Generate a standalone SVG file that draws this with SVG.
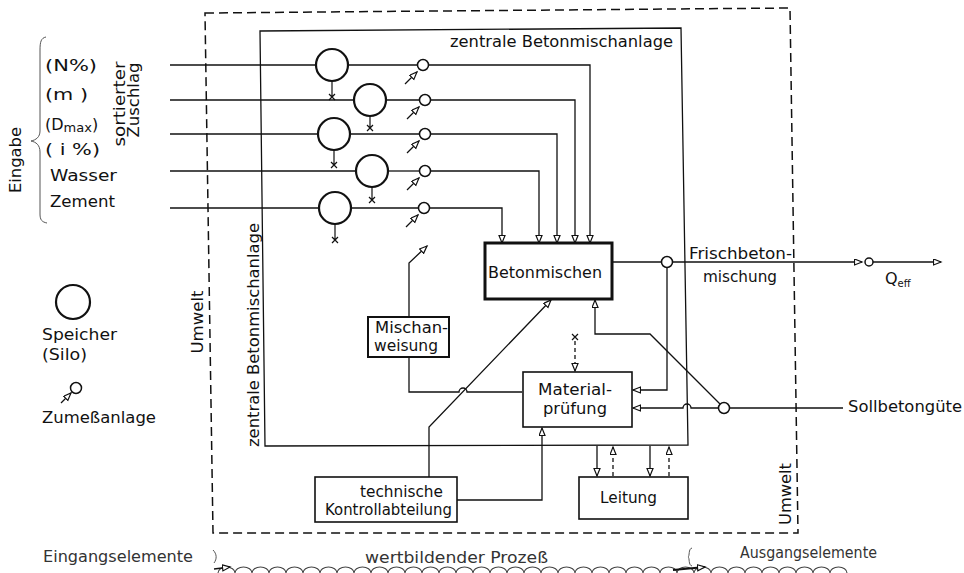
<svg xmlns="http://www.w3.org/2000/svg" width="964" height="573" viewBox="0 0 964 573">
<style>
text{font-family:"DejaVu Sans","Liberation Sans",sans-serif;font-size:16px;fill:#111}
.g{fill:#333}
.k{font-size:15px}
.l{fill:none;stroke:#111;stroke-width:1.3}
.d{fill:none;stroke:#111;stroke-width:1.3;stroke-dasharray:4 3}
.od{fill:none;stroke:#111;stroke-width:1.5;stroke-dasharray:9 5}
.b{fill:#fff;stroke:#111;stroke-width:1.6}
.s{fill:#fff;stroke:#111;stroke-width:2.2}
.z{fill:#fff;stroke:#111;stroke-width:1.5}
.x{fill:none;stroke:#111;stroke-width:1.2}
</style>
<defs>
<marker id="a" markerWidth="10" markerHeight="8" refX="8" refY="3.5" orient="auto" markerUnits="userSpaceOnUse"><path d="M0.5,0.5 L8,3.5 L0.5,6.5 Z" fill="#fff" stroke="#111" stroke-width="1.2"/></marker>
</defs>

<g id="umwelt">
<path class="od" d="M205,13 L790,8 L798,533 L213,533 Z"/>
<text transform="translate(203,322) rotate(-90)" text-anchor="middle" textLength="63" lengthAdjust="spacingAndGlyphs">Umwelt</text>
<text transform="translate(791,494) rotate(-90)" text-anchor="middle" textLength="62" lengthAdjust="spacingAndGlyphs">Umwelt</text>
</g>

<g id="anlage">
<path class="l" d="M260,31 L681,28 L688,445 L265,446 Z"/>
<text x="450" y="47" textLength="223" lengthAdjust="spacingAndGlyphs">zentrale Betonmischanlage</text>
<text transform="translate(259,335) rotate(-90)" text-anchor="middle" textLength="224" lengthAdjust="spacingAndGlyphs">zentrale Betonmischanlage</text>
</g>

<g id="eingabe">
<path fill="none" stroke="#555" stroke-width="1" d="M46,37 C41,38 40,42 40,50 L40,131 C40,137 36,140 31,141 C36,142 40,145 40,152 L40,214 C40,220 42,222 47,223"/>
<text transform="translate(21,160) rotate(-90)" text-anchor="middle" textLength="66" lengthAdjust="spacingAndGlyphs">Eingabe</text>
<text x="45" y="71" textLength="52" lengthAdjust="spacingAndGlyphs">(N%)</text>
<text x="45" y="100" textLength="43" lengthAdjust="spacingAndGlyphs">(m )</text>
<text x="45" y="130">(D<tspan font-size="13" dy="2">max</tspan><tspan dy="-2">)</tspan></text>
<text x="45" y="155" textLength="55" lengthAdjust="spacingAndGlyphs">( i %)</text>
<text x="50" y="181" textLength="67" lengthAdjust="spacingAndGlyphs">Wasser</text>
<text x="50" y="207" textLength="65" lengthAdjust="spacingAndGlyphs">Zement</text>
<text transform="translate(125,104) rotate(-90)" text-anchor="middle" textLength="85" lengthAdjust="spacingAndGlyphs">sortierter</text>
<text transform="translate(138.5,100) rotate(-90)" text-anchor="middle" textLength="75" lengthAdjust="spacingAndGlyphs">Zuschlag</text>
</g>

<g id="legende">
<circle class="s" cx="73" cy="302" r="17"/>
<text x="42" y="340" textLength="75" lengthAdjust="spacingAndGlyphs">Speicher</text>
<text x="42" y="360" textLength="45" lengthAdjust="spacingAndGlyphs">(Silo)</text>
<circle class="z" cx="76" cy="388" r="5.5"/>
<path class="l" d="M61,403 L71,393" marker-end="url(#a)"/>
<text x="42" y="423" textLength="114" lengthAdjust="spacingAndGlyphs">Zumeßanlage</text>
</g>

<g id="connectors">
<path class="l" d="M170,65 H316"/>
<path class="l" d="M170,100 H354"/>
<path class="l" d="M170,134 H318"/>
<path class="l" d="M170,171 H356"/>
<path class="l" d="M170,208 H319"/>
<path class="l" d="M348,65 H417.5"/>
<path class="l" d="M386,100 H419.5"/>
<path class="l" d="M350,134 H419.5"/>
<path class="l" d="M388,171 H419.5"/>
<path class="l" d="M351,208 H418.5"/>
<path class="l" d="M428.5,65 H590 V243" marker-end="url(#a)"/>
<path class="l" d="M430.5,100 H575 V243" marker-end="url(#a)"/>
<path class="l" d="M430.5,134 H557 V243" marker-end="url(#a)"/>
<path class="l" d="M430.5,171 H539 V243" marker-end="url(#a)"/>
<path class="l" d="M429.5,208 H502 V243" marker-end="url(#a)"/>
<path class="l" d="M612,262 H661.5"/>
<path class="l" d="M672.5,262 H862" marker-end="url(#a)"/>
<circle class="z" cx="869" cy="262" r="4"/>
<path class="l" d="M873,262 H941" marker-end="url(#a)"/>
<path class="l" d="M667,267.5 V390 H633" marker-end="url(#a)"/>
<path class="l" d="M843,408 H729.5"/>
<path class="l" d="M718.5,408 H691 a4,4 0 0 0 -8,0 H633" marker-end="url(#a)"/>
<path class="l" d="M720,404 L650,334 H595 V300" marker-end="url(#a)"/>
<path class="l" d="M409,317 V263 L427,246" marker-end="url(#a)"/>
<path class="l" d="M409,357 V392 H459 a4,4 0 0 1 8,0 H522"/>
<path class="l" d="M429,477 V427 L551,300" marker-end="url(#a)"/>
<path class="l" d="M457,500 H542 V428" marker-end="url(#a)"/>
<path class="x" d="M572,334 L578,340 M572,340 L578,334"/>
<path class="d" d="M575,341 V371" marker-end="url(#a)"/>
<path class="l" d="M597,446 V476" marker-end="url(#a)"/>
<path class="d" d="M613,476 V447" marker-end="url(#a)"/>
<path class="l" d="M650,446 V476" marker-end="url(#a)"/>
<path class="d" d="M669,476 V447" marker-end="url(#a)"/>
</g>

<g id="silo1"><circle class="s" cx="332" cy="65" r="16"/><path class="x" d="M332,81 V97 M329,94 L335,100 M329,100 L335,94"/></g>
<g id="silo2"><circle class="s" cx="370" cy="100" r="16"/><path class="x" d="M370,116 V128 M367,125 L373,131 M367,131 L373,125"/></g>
<g id="silo3"><circle class="s" cx="334" cy="134" r="16"/><path class="x" d="M334,150 V165 M331,162 L337,168 M331,168 L337,162"/></g>
<g id="silo4"><circle class="s" cx="372" cy="171" r="16"/><path class="x" d="M372,187 V200 M369,197 L375,203 M369,203 L375,197"/></g>
<g id="silo5"><circle class="s" cx="335" cy="208" r="16"/><path class="x" d="M335,224 V240 M332,237 L338,243 M332,243 L338,237"/></g>

<g id="zumess1"><circle class="z" cx="423" cy="65" r="5.5"/><path class="l" d="M405,84 L417,72" marker-end="url(#a)"/></g>
<g id="zumess2"><circle class="z" cx="425" cy="100" r="5.5"/><path class="l" d="M407,119 L419,107" marker-end="url(#a)"/></g>
<g id="zumess3"><circle class="z" cx="425" cy="134" r="5.5"/><path class="l" d="M407,153 L419,141" marker-end="url(#a)"/></g>
<g id="zumess4"><circle class="z" cx="425" cy="171" r="5.5"/><path class="l" d="M407,190 L419,178" marker-end="url(#a)"/></g>
<g id="zumess5"><circle class="z" cx="424" cy="208" r="5.5"/><path class="l" d="M406,227 L418,215" marker-end="url(#a)"/></g>

<g id="knoten">
<circle class="z" cx="667" cy="262" r="5.5"/>
<circle class="z" cx="724" cy="408" r="5.5"/>
</g>

<g id="betonmischen">
<rect x="485" y="243" width="127" height="56" fill="#fff" stroke="#111" stroke-width="3"/>
<text x="488" y="278" textLength="114" lengthAdjust="spacingAndGlyphs">Betonmischen</text>
</g>

<g id="materialpruefung">
<rect class="b" x="523" y="372" width="109" height="55"/>
<text x="538" y="395" textLength="74" lengthAdjust="spacingAndGlyphs">Material-</text>
<text x="543" y="414" textLength="64" lengthAdjust="spacingAndGlyphs">prüfung</text>
</g>

<g id="mischanweisung">
<rect x="368" y="317" width="81" height="40" fill="#fff" stroke="#111" stroke-width="2"/>
<text x="375" y="333" textLength="73" lengthAdjust="spacingAndGlyphs">Mischan-</text>
<text x="374" y="351" textLength="64" lengthAdjust="spacingAndGlyphs">weisung</text>
</g>

<g id="kontrollabteilung">
<rect class="b" x="315" y="477" width="142" height="45"/>
<text class="k" x="360" y="497" textLength="83" lengthAdjust="spacingAndGlyphs">technische</text>
<text class="k" x="325" y="515" textLength="127" lengthAdjust="spacingAndGlyphs">Kontrollabteilung</text>
</g>

<g id="leitung">
<rect class="b" x="579" y="477" width="109" height="42"/>
<text x="600" y="503" textLength="57" lengthAdjust="spacingAndGlyphs">Leitung</text>
</g>

<g id="ausgang">
<text x="689" y="259" textLength="103" lengthAdjust="spacingAndGlyphs">Frischbeton-</text>
<text x="703" y="282" textLength="74" lengthAdjust="spacingAndGlyphs">mischung</text>
<text x="885" y="284">Q<tspan font-size="10" dy="3">eff</tspan></text>
<text x="848" y="412" textLength="114" lengthAdjust="spacingAndGlyphs">Sollbetongüte</text>
</g>

<g id="prozess">
<text class="g" x="43" y="562" textLength="150" lengthAdjust="spacingAndGlyphs">Eingangselemente</text>
<text class="g" x="365" y="563" textLength="183" lengthAdjust="spacingAndGlyphs">wertbildender Prozeß</text>
<text class="g" x="740" y="558" textLength="137" lengthAdjust="spacingAndGlyphs">Ausgangselemente</text>
<path fill="none" stroke="#555" stroke-width="1" d="M213,550 C217,554 217,559 214,563"/>
<path fill="none" stroke="#555" stroke-width="1" d="M692,548 C688,549 690,556 688,557 C690,558 688,565 692,566"/>
<path fill="none" stroke="#444" stroke-width="1.1" d="M218,573 a8.5,6 0 0 1 17,0 a8.5,6 0 0 1 17,0 a8.5,6 0 0 1 17,0 a8.5,6 0 0 1 17,0 a8.5,6 0 0 1 17,0 a8.5,6 0 0 1 17,0 a8.5,6 0 0 1 17,0 a8.5,6 0 0 1 17,0 a8.5,6 0 0 1 17,0 a8.5,6 0 0 1 17,0 a8.5,6 0 0 1 17,0 a8.5,6 0 0 1 17,0 a8.5,6 0 0 1 17,0 a8.5,6 0 0 1 17,0 a8.5,6 0 0 1 17,0 a8.5,6 0 0 1 17,0 a8.5,6 0 0 1 17,0 a8.5,6 0 0 1 17,0 a8.5,6 0 0 1 17,0 a8.5,6 0 0 1 17,0 a8.5,6 0 0 1 17,0 a8.5,6 0 0 1 17,0 a8.5,6 0 0 1 17,0 a8.5,6 0 0 1 17,0 a8.5,6 0 0 1 17,0 a8.5,6 0 0 1 17,0 a8.5,6 0 0 1 17,0 a8.5,6 0 0 1 17,0 a8.5,6 0 0 1 17,0 a8.5,6 0 0 1 17,0 a8.5,6 0 0 1 17,0 a8.5,6 0 0 1 17,0 a8.5,6 0 0 1 17,0 a8.5,6 0 0 1 17,0 a8.5,6 0 0 1 17,0 a8.5,6 0 0 1 17,0 a8.5,6 0 0 1 17,0"/>
<path class="l" d="M214,569 L230,567" marker-end="url(#a)"/>
<path fill="none" stroke="#111" stroke-width="2" d="M673,570 L705,567" marker-end="url(#a)"/>
</g>
</svg>
